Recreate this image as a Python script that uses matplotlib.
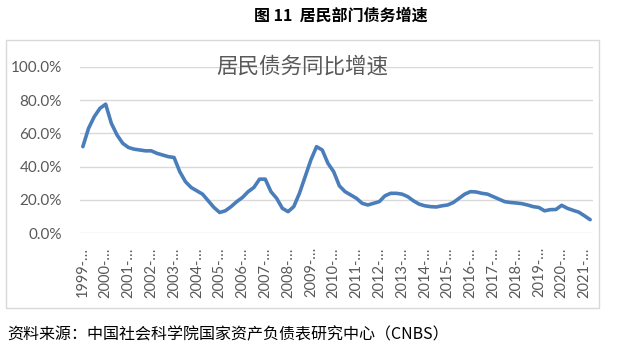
import matplotlib
matplotlib.use("Agg")
import matplotlib.pyplot as plt
from matplotlib.patches import Rectangle
import numpy as np

# Quarterly household debt YoY growth (%), 1999Q1 - 2021Q2
years = list(range(1999, 2022))
tick_labels = [f"{y}-…" for y in years]
growth = [
    52, 63, 70, 75,          # 1999
    77.5, 66, 59, 54,        # 2000
    51.5, 50.5, 50, 49.5,    # 2001
    49.5, 48, 47, 46,        # 2002
    45.5, 37, 31, 27.5,      # 2003
    25.5, 23.5, 19.5, 15.5,  # 2004
    12.5, 13.5, 16, 19,      # 2005
    21.5, 25, 27.5, 32.5,    # 2006
    32.5, 25, 21, 15,        # 2007
    13, 16, 24, 34,          # 2008
    44, 52, 50, 42,          # 2009
    37, 28.5, 25, 23,        # 2010
    21, 18, 17, 18,          # 2011
    19, 22.5, 24, 24,        # 2012
    23.5, 22, 19.5, 17.5,    # 2013
    16.5, 16, 15.8, 16.5,    # 2014
    17, 18.5, 21, 23.5,      # 2015
    25, 24.8, 24, 23.5,      # 2016
    22, 20.5, 19, 18.5,      # 2017
    18.2, 17.8, 17, 16,      # 2018
    15.5, 13.5, 14.2, 14.3,  # 2019
    16.8, 15, 13.8, 12.7,    # 2020
    10.5, 8.2,               # 2021
]
yticks = [0, 20, 40, 60, 80, 100]

plt.rcParams['font.family'] = ['Noto Sans CJK SC', 'DejaVu Sans']

W, H = 620, 348
fig = plt.figure(figsize=(W / 100, H / 100), dpi=100)

def fx(px):
    return px / W

def fy(py):
    return 1 - py / H

# outer chart box
fig.patches.append(Rectangle((fx(6), fy(308)), fx(599) - fx(6), fy(40) - fy(308),
                             transform=fig.transFigure, fill=False,
                             edgecolor='#D9D9D9', linewidth=1.0))

ax = fig.add_axes([fx(80), fy(233.3), fx(593) - fx(80), fy(66.7) - fy(233.3)])
x = np.arange(len(growth))
ax.plot(x, growth, color='#4A7EBB', linewidth=2.6, solid_joinstyle='round',
        solid_capstyle='round', zorder=3)

ax.set_xlim(-0.5, len(growth) - 0.5)
ax.set_ylim(0, 100)
ax.set_yticks(yticks)
ax.set_yticklabels([f"{v:.1f}%" for v in yticks], family=['Lato', 'DejaVu Sans'],
                   fontsize=11, color='#595959')
ax.set_xticks(np.arange(0, len(growth), 4))
ax.set_xticklabels(tick_labels, rotation=90, family=['Lato', 'DejaVu Sans'],
                   fontsize=10.5, color='#595959', va='top', ha='center')
ax.tick_params(axis='both', length=0)
ax.tick_params(axis='x', pad=10)
ax.tick_params(axis='y', pad=13)
ax.grid(axis='y', color='#D9D9D9', linewidth=1.0)
ax.set_axisbelow(True)
for s in ax.spines.values():
    s.set_visible(False)

fig.text(fx(302), fy(67), "居民债务同比增速", ha='center', va='center',
         fontsize=15.5, color='#595959')
fig.text(fx(341), fy(16), "图 11  居民部门债务增速", ha='center', va='center',
         fontsize=11.5, fontweight='bold', color='#000000')
fig.text(fx(7), fy(335), "资料来源：中国社会科学院国家资产负债表研究中心（CNBS）",
         ha='left', va='center', fontsize=11.5, color='#000000')

fig.savefig("out.png", dpi=100)
